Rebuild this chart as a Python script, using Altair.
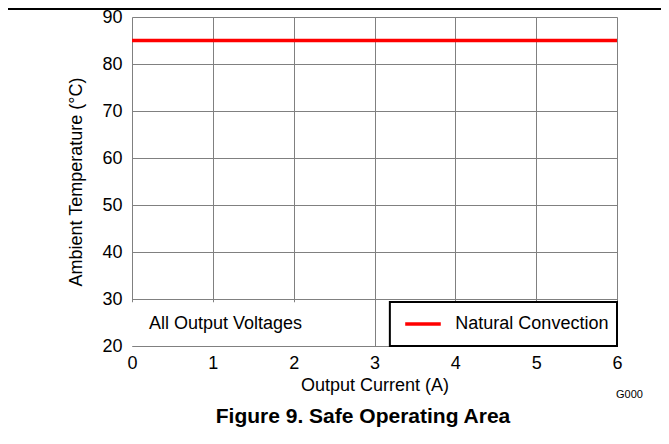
import altair as alt
import pandas as pd

# Data
current = [0, 6]
temperature = [85, 85]
series = ["Natural Convection", "Natural Convection"]
x_ticks = [0, 1, 2, 3, 4, 5, 6]
y_ticks = [20, 30, 40, 50, 60, 70, 80, 90]

FONT = "Liberation Sans"
W, H = 485, 329
FS = 18

df = pd.DataFrame({"current": current, "temp": temperature, "series": series})

xs = alt.Scale(domain=[0, 6], nice=False, zero=False)
ys = alt.Scale(domain=[20, 90], nice=False, zero=False)

x_axis = alt.Axis(values=x_ticks, format="d", title="Output Current (A)", grid=True, gridColor="#808080",
                  gridWidth=1, ticks=False, domain=False, labelFont=FONT, labelFontSize=FS,
                  labelColor="black", labelPadding=8, titleFont=FONT, titleFontSize=FS,
                  titleFontWeight="normal", titleColor="black", titlePadding=4, labelFlush=False)
y_axis = alt.Axis(values=y_ticks, format="d", title="Ambient Temperature (°C)", grid=True, gridColor="#808080",
                  gridWidth=1, ticks=False, domain=False, labelFont=FONT, labelFontSize=FS,
                  labelColor="black", labelPadding=10, titleFont=FONT, titleFontSize=FS,
                  titleFontWeight="normal", titleColor="black", titlePadding=16, labelFlush=False)

base = alt.Chart(df)

line = base.mark_line(color="#ff0000", strokeWidth=3.5).encode(
    x=alt.X("current:Q", scale=xs, axis=x_axis),
    y=alt.Y("temp:Q", scale=ys, axis=y_axis),
)

box_left = pd.DataFrame({"x": [0], "x2": [2.7], "y": [20], "y2": [29.3]})
left_rect = alt.Chart(box_left).mark_rect(fill="white", stroke=None).encode(
    x=alt.X("x:Q", scale=xs), x2="x2:Q", y=alt.Y("y:Q", scale=ys), y2="y2:Q")

box_leg = pd.DataFrame({"x": [3.19], "x2": [6], "y": [20], "y2": [29.35]})
leg_rect = alt.Chart(box_leg).mark_rect(fill="white", stroke="black", strokeWidth=2).encode(
    x=alt.X("x:Q", scale=xs), x2="x2:Q", y=alt.Y("y:Q", scale=ys), y2="y2:Q")

leg_line_df = pd.DataFrame({"x": [3.38], "x2": [3.82], "y": [24.7]})
leg_line = alt.Chart(leg_line_df).mark_rule(color="#ff0000", strokeWidth=3.5).encode(
    x=alt.X("x:Q", scale=xs), x2="x2:Q", y=alt.Y("y:Q", scale=ys))

leg_text_df = pd.DataFrame({"x": [4.0], "y": [24.7], "t": ["Natural Convection"]})
leg_text = alt.Chart(leg_text_df).mark_text(align="left", baseline="middle", font=FONT,
                                            fontSize=FS, color="black").encode(
    x=alt.X("x:Q", scale=xs), y=alt.Y("y:Q", scale=ys), text="t:N")

ann_df = pd.DataFrame({"x": [0.21], "y": [24.7], "t": ["All Output Voltages"]})
ann_text = alt.Chart(ann_df).mark_text(align="left", baseline="middle", font=FONT,
                                       fontSize=FS, color="black").encode(
    x=alt.X("x:Q", scale=xs), y=alt.Y("y:Q", scale=ys), text="t:N")

gid_df = pd.DataFrame({"t": ["G000"]})
gid = alt.Chart(gid_df).mark_text(align="left", baseline="middle", font=FONT, fontSize=11,
                                  color="black").encode(
    x=alt.value(W - 1), y=alt.value(H + 49), text="t:N")

title_df = pd.DataFrame({"t": ["Figure 9. Safe Operating Area"]})
title = alt.Chart(title_df).mark_text(align="center", baseline="middle", font=FONT, fontSize=21,
                                      fontWeight="bold", color="black").encode(
    x=alt.value(231), y=alt.value(H + 71), text="t:N")

top_rule = alt.Chart(gid_df).mark_rule(color="black", strokeWidth=2).encode(
    x=alt.value(-124), x2=alt.value(W + 44), y=alt.value(-8))

chart = alt.layer(left_rect, leg_rect, line, leg_line, leg_text, ann_text, gid, title, top_rule).properties(
    width=W, height=H,
    autosize=alt.AutoSizeParams(type="none"),
    padding={"left": 124, "top": 9, "right": 44, "bottom": 90},
).configure_view(stroke="black", strokeWidth=2).configure(background="white")

chart.save("out.html", embed_options={"renderer": "svg", "actions": False})
